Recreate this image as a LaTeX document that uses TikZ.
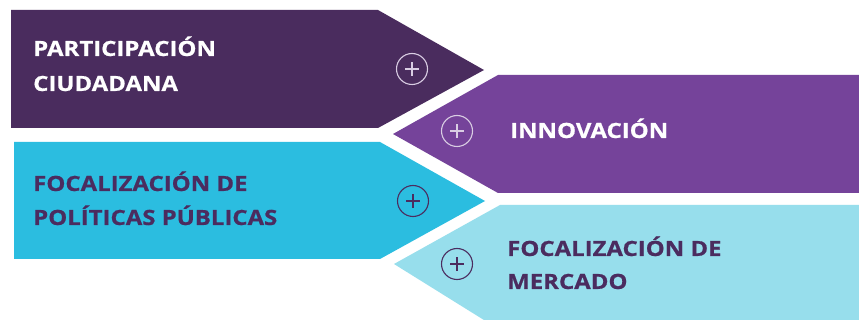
\documentclass[tikz,border=0pt]{standalone}
\usepackage{fontspec}
\usepackage{graphicx}
\setmainfont{Open Sans}
\newfontfamily\heavyfont{Open Sans}[BoldFeatures={FakeBold=0.6}]
\definecolor{cA}{HTML}{4A2C5E}
\definecolor{cB}{HTML}{75439A}
\definecolor{cC}{HTML}{2BBDE0}
\definecolor{cD}{HTML}{97DEEC}
\definecolor{txtdark}{HTML}{4B2C5F}
\definecolor{ringlight}{HTML}{D9CDE3}
\newcommand{\stretchtxt}[1]{\scalebox{1.14}[1]{#1}}
\tikzset{
  lbl/.style={anchor=base west,font=\fontsize{21}{25}\selectfont\heavyfont\bfseries,inner sep=0pt},
  ring/.style={circle,draw,line width=1.1pt,minimum size=31pt,inner sep=0pt,
    path picture={\draw[line width=1.1pt] ([xshift=-7pt]path picture bounding box.center) -- ([xshift=7pt]path picture bounding box.center)
      ([yshift=-7pt]path picture bounding box.center) -- ([yshift=7pt]path picture bounding box.center);}},
}
\begin{document}
\begin{tikzpicture}[x=1pt,y=-1pt]
\useasboundingbox (0,0) rectangle (859,320);
\fill[white] (0,0) rectangle (859,320);
% shapes
\fill[cA] (11,10) -- (378,10) -- (484,70) -- (378,128) -- (11,128) -- cycle;
\fill[cB] (498,75) -- (870,75) -- (870,193) -- (498,193) -- (393,134) -- cycle;
\fill[cC] (14,142) -- (380,142) -- (485,201) -- (380,259) -- (14,259) -- cycle;
\fill[cD] (500,205) -- (870,205) -- (870,330) -- (500,330) -- (394,264) -- cycle;
% rings
\node[ring,draw=ringlight,color=ringlight] (r1) at (412,69) {};
\node[ring,draw=ringlight,color=ringlight] (r2) at (457,131) {};
\node[ring,draw=txtdark,color=txtdark] (r3) at (413,201) {};
\node[ring,draw=txtdark,color=txtdark] (r4) at (457,264) {};
% labels
\node[lbl,text=white] (t1a) at (33,56) {\stretchtxt{PARTICIPACIÓN}};
\node[lbl,text=white] (t1b) at (33,91) {\stretchtxt{CIUDADANA}};
\node[lbl,text=white] (t2) at (510,138) {\stretchtxt{INNOVACIÓN}};
\node[lbl,text=txtdark] (t3a) at (33,191) {\stretchtxt{FOCALIZACIÓN DE}};
\node[lbl,text=txtdark] (t3b) at (33,225) {\stretchtxt{POLÍTICAS PÚBLICAS}};
\node[lbl,text=txtdark] (t4a) at (507,256) {\stretchtxt{FOCALIZACIÓN DE}};
\node[lbl,text=txtdark] (t4b) at (507,289) {\stretchtxt{MERCADO}};
\end{tikzpicture}
\end{document}
